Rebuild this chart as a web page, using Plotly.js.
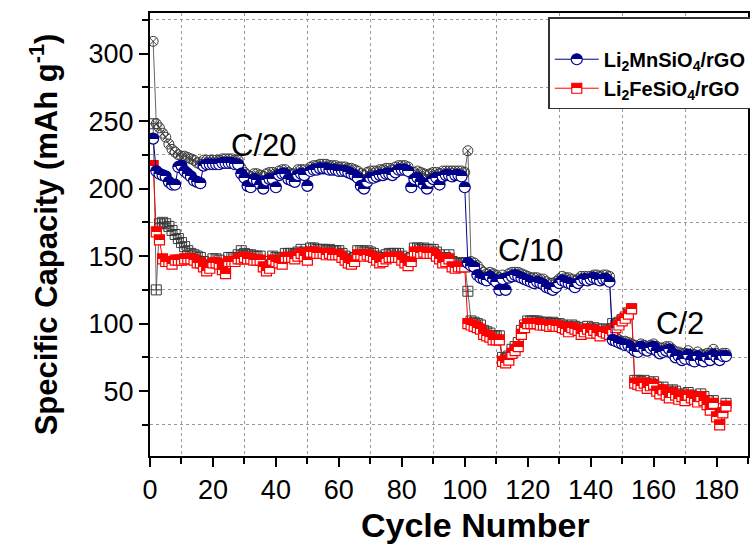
<!DOCTYPE html>
<html>
<head>
<meta charset="utf-8">
<script src="https://cdn.plot.ly/plotly-3.0.1.min.js"></script>
<style>
html,body{margin:0;padding:0;background:#fff;}
#chart{width:750px;height:548px;}
</style>
</head>
<body>
<div id="chart"></div>
<script>
// Li2MnSiO4/rGO discharge capacity (blue half-filled circles)
const mnDischarge = [
237,213,211,210,209,205,203,203,216,217,
213,211,209,206,205,204,217,218,218,218,
218,218,219,219,219,219,218,218,211,208,
202,201,207,206,203,200,206,207,207,201,
210,211,211,207,206,205,210,211,210,202,
213,214,214,215,215,215,214,214,214,213,
213,213,212,211,210,208,202,200,205,208,
208,209,210,210,211,211,210,212,214,214,
214,213,201,207,208,205,203,200,205,207,
208,203,209,210,210,209,210,210,209,201,
145,143,142,136,134,133,132,135,133,131,
125,133,125,134,135,136,135,134,133,132,
131,130,131,130,129,127,126,125,127,130,
132,131,130,129,127,130,132,133,132,133,
134,133,132,133,133,131,88,87,86,85,
84,84,82,80,79,83,81,80,82,83,
80,78,79,80,81,78,75,76,73,74,
77,73,72,76,73,72,75,73,77,75,
73,76,76];
// Li2MnSiO4/rGO charge capacity (crossed circles)
const mnCharge = [
309,248,245,241,238,233,229,227,225,224,
224,223,222,221,219,218,221,221,221,221,
221,221,222,222,222,222,221,221,215,212,
210,209,211,211,210,209,211,212,212,210,
213,214,214,212,211,211,214,214,214,212,
216,217,217,218,218,218,217,217,217,216,
216,216,215,215,214,213,211,210,212,213,
213,213,214,214,215,215,214,216,217,217,
217,216,211,212,213,212,211,210,211,212,
212,211,213,213,213,213,213,213,213,212,
228,146,145,143,140,138,137,138,137,136,
134,136,134,137,138,138,138,137,136,135,
134,134,134,133,133,131,130,130,131,133,
135,134,134,133,132,133,135,135,135,135,
136,136,135,136,136,135,91,90,88,87,
87,86,85,84,83,85,84,83,84,85,
83,82,82,83,83,81,79,79,78,78,
80,77,77,79,77,77,78,78,81,78,
77,78,78];
// Li2FeSiO4/rGO discharge capacity (red half-filled squares)
const feDischarge = [
217,168,162,148,146,146,144,147,147,147,
148,148,148,147,145,145,142,139,141,145,
145,144,140,137,146,146,146,148,148,149,
148,148,147,147,147,142,139,141,147,146,
145,144,149,149,149,148,150,152,150,147,
153,153,152,152,152,151,152,151,151,151,
149,147,145,144,146,151,151,150,151,150,
149,147,145,146,148,149,149,149,149,147,
145,143,146,153,153,152,153,152,152,152,
150,148,145,146,148,142,141,142,142,142,
100,99,98,97,96,92,91,90,88,88,
88,72,71,73,78,80,83,92,97,100,
100,100,100,99,99,99,98,99,98,98,
97,96,94,97,96,95,92,94,96,93,
95,93,91,94,93,92,95,97,99,102,
104,107,111,56,55,54,56,52,54,55,
50,48,51,47,45,49,47,44,46,43,
47,45,44,42,46,43,40,36,41,31,
25,34,39];
// Li2FeSiO4/rGO charge capacity (crossed squares)
const feCharge = [
248,125,174,175,174,172,169,166,163,160,
157,154,152,151,150,149,146,143,144,148,
148,147,144,141,149,149,149,151,154,152,
151,151,150,150,150,146,143,144,150,149,
148,147,152,152,152,151,153,155,153,151,
156,156,155,155,155,154,155,154,154,154,
152,150,148,147,149,154,154,153,154,153,
152,150,148,149,151,152,152,152,152,150,
148,146,149,156,156,155,156,155,155,155,
153,151,148,149,151,146,145,145,145,145,
124,102,101,100,99,95,94,93,91,91,
91,75,74,76,81,83,86,95,99,102,
102,102,102,101,101,101,100,101,100,100,
99,98,97,99,98,97,95,96,98,96,
97,96,94,96,96,95,100,99,101,103,
105,108,111,58,58,57,58,55,56,57,
53,51,53,50,48,51,50,47,48,46,
49,47,46,45,48,46,43,39,43,34,
29,37,41];
const cycles = mnDischarge.map((_, i) => i + 1);

const seriesNames = ['Li<sub>2</sub>MnSiO<sub>4</sub>/rGO', 'Li<sub>2</sub>FeSiO<sub>4</sub>/rGO'];
const xTitle = 'Cycle Number';
const yTitle = 'Specific Capacity (mAh g<sup>-1</sup>)';
const rateLabels = ['C/20', 'C/10', 'C/2'];
const rateX = [36, 121, 168.5];
const rateY = [232, 154, 100];

const FONT = 'Liberation Sans, Arial, Helvetica, sans-serif';
const NAVY = '#00008b';
const RED = '#ff0000';
const CHG = '#3a3a3a';

const data = [
  {x: cycles, y: mnCharge, mode: 'lines+markers', showlegend: false,
   line: {color: '#666', width: 1},
   marker: {symbol: 'circle-x-open', size: 10, color: CHG, line: {width: 1, color: CHG}}},
  {x: cycles, y: feCharge, mode: 'lines+markers', showlegend: false,
   line: {color: '#666', width: 1},
   marker: {symbol: 'square-cross-open', size: 10, color: CHG, line: {width: 1, color: CHG}}},
  {x: cycles, y: feDischarge, mode: 'lines+markers', name: seriesNames[1], legendrank: 2,
   line: {color: RED, width: 1},
   marker: {symbol: 'square', size: 10, color: RED, gradient: {type: 'vertical', color: '#ffffff'},
            line: {width: 1.2, color: RED}}},
  {x: cycles, y: mnDischarge, mode: 'lines+markers', name: seriesNames[0], legendrank: 1,
   line: {color: NAVY, width: 1},
   marker: {symbol: 'circle', size: 11, color: NAVY, gradient: {type: 'vertical', color: '#ffffff'},
            line: {width: 1.2, color: NAVY}}}
];

const axisCommon = {
  showline: true, linecolor: '#000', linewidth: 2, mirror: true,
  ticks: 'outside', ticklen: 9, tickwidth: 2, tickcolor: '#000',
  showgrid: false, zeroline: false,
  tickfont: {family: FONT, size: 27, color: '#000'}
};

const annotations = rateLabels.map((t, i) => ({
  x: rateX[i], y: rateY[i], xref: 'x', yref: 'y', text: t, showarrow: false,
  font: {family: FONT, size: 31, color: '#000'}
}));
annotations.push({
  x: 0.545, y: 0, xref: 'paper', yref: 'paper', yanchor: 'middle', yshift: -69,
  text: xTitle, showarrow: false,
  font: {family: FONT, size: 34, weight: 'bold', color: '#000'}
});

const layout = {
  width: 750, height: 548,
  margin: {l: 150, r: 2, t: 13, b: 92, autoexpand: false},
  paper_bgcolor: '#fff', plot_bgcolor: '#fff',
  font: {family: FONT, color: '#000'},
  xaxis: Object.assign({}, axisCommon, {
    range: [0, 190], tick0: 0, dtick: 20,
    minor: {dtick: 10, ticks: 'outside', ticklen: 6, tickwidth: 2, tickcolor: '#000',
            showgrid: true, gridcolor: '#999', griddash: 'dot', gridwidth: 1}
  }),
  yaxis: Object.assign({}, axisCommon, {
    range: [2, 330], tick0: 0, dtick: 50,
    minor: {dtick: 25, ticks: 'outside', ticklen: 6, tickwidth: 2, tickcolor: '#000',
            showgrid: true, gridcolor: '#999', griddash: 'dot', gridwidth: 1},
    title: {text: yTitle, font: {family: FONT, size: 31, weight: 'bold', color: '#000'}, standoff: 22}
  }),
  legend: {
    x: 0.666, y: 0.99, xanchor: 'left', yanchor: 'top',
    bgcolor: '#fff', bordercolor: '#333', borderwidth: 1.5,
    font: {family: FONT, size: 20, weight: 'bold', color: '#000'},
    title: {text: '&nbsp;', font: {size: 16}},
    itemwidth: 44,
    traceorder: 'normal'
  },
  annotations: annotations
};

Plotly.newPlot('chart', data, layout, {displayModeBar: false, staticPlot: true}).then(function () {
  // make the vertical marker gradients a sharp half/half split (half-filled symbols)
  document.querySelectorAll('#chart linearGradient').forEach(function (g) {
    const stops = g.querySelectorAll('stop');
    if (stops.length === 2) {
      stops[0].setAttribute('offset', '50%');
      stops[1].setAttribute('offset', '50%');
    }
  });
});
</script>
</body>
</html>
